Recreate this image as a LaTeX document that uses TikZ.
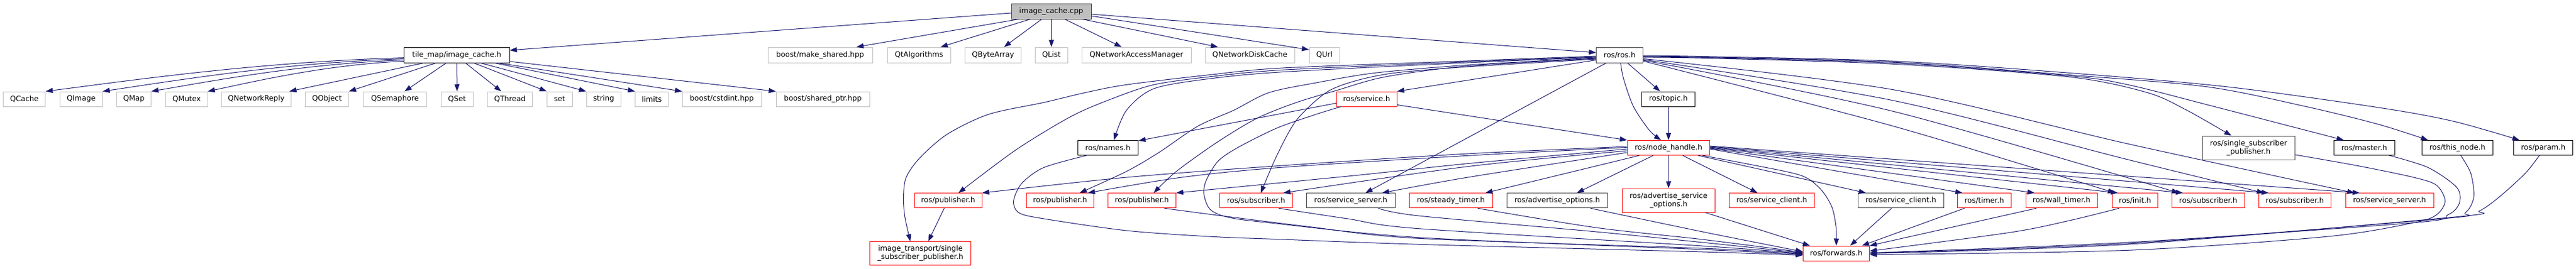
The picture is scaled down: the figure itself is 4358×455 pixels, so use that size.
\documentclass[tikz,border=0pt]{standalone}
\usepackage{fontspec}
\newfontfamily\nodefont{DejaVu Sans}
\usetikzlibrary{arrows.meta}
\definecolor{mblue}{HTML}{191970}
\definecolor{gseventyfive}{HTML}{BFBFBF}
\definecolor{gtwentyfive}{HTML}{404040}
\begin{document}
\begin{tikzpicture}[x=1pt,y=-1pt,
  nbox/.style={draw, rectangle, inner sep=0pt, line width=1pt, align=center, text=black,
    font=\nodefont\fontsize{12.4pt}{14pt}\selectfont},
  gnode/.style={nbox, draw=gseventyfive},
  bnode/.style={nbox, draw=black},
  dnode/.style={nbox, draw=gtwentyfive},
  rnode/.style={nbox, draw=red},
  wh/.style 2 args={minimum width=#1pt, minimum height=#2pt},
  edge/.style={draw=mblue, line width=1pt, -{Triangle[length=12pt,width=8.5pt]}},
]
\useasboundingbox (0,0) rectangle (4358,455);
\fill[white] (0,0) rectangle (4358,455);

% row 0
\node[dnode, fill=gseventyfive, wh={135}{26}] (cpp) at (1778.5,19) {image\_cache.cpp};
% row 1
\node[bnode, wh={178.5}{26}] (tilemap) at (772.75,93) {tile\_map/image\_cache.h};
\node[gnode, wh={177}{26}] (makeshared) at (1387.5,93) {boost/make\_shared.hpp};
\node[gnode, wh={106.5}{26}] (qtalg) at (1554.75,93) {QtAlgorithms};
\node[gnode, wh={94.6}{26}] (qbyte) at (1680,93) {QByteArray};
\node[gnode, wh={54.5}{26}] (qlist) at (1778.75,93) {QList};
\node[gnode, wh={185}{26}] (qnam) at (1922.5,93) {QNetworkAccessManager};
\node[gnode, wh={151}{26}] (qndc) at (2114.5,93) {QNetworkDiskCache};
\node[gnode, wh={51}{26}] (qurl) at (2240.5,93) {QUrl};
\node[dnode, wh={78.7}{26}] (ros) at (2740,93) {ros/ros.h};
% row 2
\node[gnode, wh={71.2}{25}] (qcache) at (41.2,167.5) {QCache};
\node[gnode, wh={71.7}{25}] (qimage) at (137.35,167.5) {QImage};
\node[gnode, wh={58.2}{25}] (qmap) at (226.5,167.5) {QMap};
\node[gnode, wh={70.3}{25}] (qmutex) at (315.85,167.5) {QMutex};
\node[gnode, wh={117.3}{25}] (qnetreply) at (433.45,167.5) {QNetworkReply};
\node[gnode, wh={73.6}{25}] (qobject) at (553.1,167.5) {QObject};
\node[gnode, wh={107.1}{25}] (qsem) at (668.15,167.5) {QSemaphore};
\node[gnode, wh={54.5}{25}] (qset) at (773.25,167.5) {QSet};
\node[gnode, wh={75.8}{25}] (qthread) at (862.7,167.5) {QThread};
\node[gnode, wh={42.9}{25}] (nset) at (946.75,167.5) {set};
\node[gnode, wh={58.6}{25}] (nstring) at (1021.3,167.5) {string};
\node[gnode, wh={55.8}{25}] (limits) at (1102.7,167.5) {limits};
\node[gnode, wh={133.6}{25}] (cstdint) at (1221.2,167.5) {boost/cstdint.hpp};
\node[gnode, wh={158}{25}] (sharedptr) at (1392,167.5) {boost/shared\_ptr.hpp};
\node[rnode, wh={102}{25}] (service) at (2312,167.5) {ros/service.h};
\node[bnode, wh={89.5}{25}] (topic) at (2822.5,167.5) {ros/topic.h};
% row 3
\node[bnode, wh={102.6}{25}] (names) at (1874.3,250) {ros/names.h};
\node[rnode, wh={139.5}{25}] (nodehandle) at (2822.75,250) {ros/node\_handle.h};
\node[dnode, wh={156}{40}] (ssp) at (3804,250) {ros/single\_subscriber\\\_publisher.h};
\node[bnode, wh={102.5}{25}] (master) at (3999.75,250) {ros/master.h};
\node[bnode, wh={119.9}{25}] (thisnode) at (4157.35,250) {ros/this\_node.h};
\node[bnode, wh={100.1}{25}] (param) at (4302.65,250) {ros/param.h};
% row 4
\node[rnode, wh={114}{25}] (pub1) at (1604,339.3) {ros/publisher.h};
\node[rnode, wh={114.6}{25}] (pub2) at (1793.3,339.3) {ros/publisher.h};
\node[rnode, wh={114.9}{25}] (pub3) at (1931.85,339.3) {ros/publisher.h};
\node[rnode, wh={122.7}{25}] (sub1) at (2125,339.3) {ros/subscriber.h};
\node[dnode, wh={149.5}{25}] (srvsrv1) at (2285.25,339.3) {ros/service\_server.h};
\node[rnode, wh={141}{25}] (steady) at (2454.5,339.3) {ros/steady\_timer.h};
\node[dnode, wh={170.6}{25}] (advopt) at (2634.3,339.3) {ros/advertise\_options.h};
\node[rnode, wh={157.1}{40}] (advsrvopt) at (2822.85,339) {ros/advertise\_service\\\_options.h};
\node[rnode, wh={144}{25}] (srvcli1) at (2997.3,339.3) {ros/service\_client.h};
\node[dnode, wh={144.3}{25}] (srvcli2) at (3215.85,339.3) {ros/service\_client.h};
\node[rnode, wh={90.7}{25}] (timer) at (3357,339.3) {ros/timer.h};
\node[rnode, wh={121.4}{25}] (walltimer) at (3487.7,339.3) {ros/wall\_timer.h};
\node[rnode, wh={76.8}{25}] (init) at (3611.9,339.3) {ros/init.h};
\node[rnode, wh={122.9}{25}] (sub2) at (3735.85,339.3) {ros/subscriber.h};
\node[rnode, wh={122.7}{25}] (sub3) at (3882.35,339.3) {ros/subscriber.h};
\node[rnode, wh={149}{25}] (srvsrv2) at (4042.5,339.3) {ros/service\_server.h};
% row 5
\node[rnode, wh={170.8}{40}] (imgtr) at (1557.1,428.7) {image\_transport/single\\\_subscriber\_publisher.h};
\node[rnode, wh={112.2}{25.3}] (forwards) at (3106.5,428.65) {ros/forwards.h};

% ---- edges from image_cache.cpp
\draw[edge] ([yshift=-3pt]cpp.west) -- ([yshift=8pt]tilemap.east);
\draw[edge] ([xshift=-55.5pt]cpp.south) -- ([xshift=61.5pt]makeshared.north);
\draw[edge] ([xshift=-35.7pt]cpp.south) -- ([xshift=36.6pt]qtalg.north);
\draw[edge] ([xshift=-16.3pt]cpp.south) -- ([xshift=18.5pt]qbyte.north);
\draw[edge] (cpp.south) -- (qlist.north);
\draw[edge] ([xshift=22.9pt]cpp.south) -- ([xshift=-25pt]qnam.north);
\draw[edge] ([xshift=53pt]cpp.south) -- ([xshift=-54pt]qndc.north);
\draw[edge] ([yshift=-8pt]cpp.east) -- ([yshift=9pt]qurl.west);
\draw[edge] ([yshift=-5pt]cpp.east) -- ([yshift=4pt]ros.west);

% ---- edges from tile_map/image_cache.h
\draw[edge] ([yshift=-4.7pt]tilemap.west) .. controls (440.8,104.6) and (228.5,135) .. (qcache.north east);
\draw[edge] ([yshift=-6.5pt]tilemap.west) .. controls (479.4,106.2) and (300.8,135.6) .. (qimage.north east);
\draw[edge] ([yshift=-8.5pt]tilemap.west) .. controls (512.3,107.9) and (362.6,136.3) .. (qmap.north east);
\draw[edge] ([yshift=-10.5pt]tilemap.west) .. controls (550.5,109.7) and (434.1,137) .. (qmutex.north east);
\draw[edge] ([xshift=-55.75pt]tilemap.south) -- ([xshift=-3pt]qnetreply.north east);
\draw[edge] ([xshift=-35pt]tilemap.south) -- (qobject.north east);
\draw[edge] ([xshift=-17.75pt]tilemap.south) -- ([xshift=16.25pt]qsem.north);
\draw[edge] (tilemap.south) -- (qset.north);
\draw[edge] ([xshift=14.75pt]tilemap.south) -- ([xshift=-14.7pt]qthread.north);
\draw[edge] ([xshift=28.75pt]tilemap.south) -- (nset.north west);
\draw[edge] ([xshift=40.25pt]tilemap.south) -- (nstring.north west);
\draw[edge] ([xshift=63.65pt]tilemap.south) -- (limits.north west);
\draw[edge] ([xshift=70.25pt]tilemap.south) -- (cstdint.north west);
\draw[edge] ([yshift=-11pt]tilemap.east) -- (sharedptr.north west);

% ---- edges from ros/ros.h, leftwards
\draw[edge] plot[smooth] coordinates {([yshift=-2pt]ros.west) (2482.7,103) (2170,115) (2045,126.7) (1905.6,143.3) (1835.8,156.7) (1766,173.3) (1672.8,193.3) (1603,226.7) (1556.4,266.7) (1533,300) (1528.5,333.3) (1530.8,366.7) ([xshift=-17pt]imgtr.north)};
\draw[edge] plot[smooth] coordinates {([yshift=-3pt]ros.west) (2482.7,104.5) (2170,118.3) (2045,130) (1952,143.3) (1882,166.7) (1812.5,196.7) (1719,253.3) ([xshift=17.6pt]pub1.north)};
\draw[edge] plot[smooth] coordinates {([yshift=-4pt]ros.west) (2482.7,106) (2170,121.7) (2045,133.3) (1952,150) (1905.6,186.7) ([xshift=10.3pt]names.north)};
\draw[edge] plot[smooth] coordinates {([yshift=-5pt]ros.west) (2482.7,110) (2326.7,123.3) (2226.7,140) (2146.7,156.7) (2086.7,186.7) (2026.7,213.3) (1960,258.3) (1905.6,290) ([xshift=33.2pt]pub2.north)};
\draw[edge] plot[smooth] coordinates {([yshift=-6pt]ros.west) (2482.7,111.7) (2343.3,130) (2260,153.3) (2193.3,173.3) (2126.7,200) (2060,240) (1990,290) ([xshift=20pt]pub3.north)};
\draw[edge] plot[smooth] coordinates {([yshift=-7pt]ros.west) (2482.7,113) (2360,123.3) (2293.3,136.7) (2243.3,156.7) (2193.3,203.3) (2160,263.3) ([xshift=8pt]sub1.north)};
\draw[edge] ([yshift=-8.5pt]ros.west) -- (service.north east);
\draw[edge] ([xshift=-22.6pt]ros.south) -- ([xshift=24.75pt]srvsrv1.north);
\draw[edge] ([xshift=13.3pt]ros.south) -- ([xshift=-14pt]topic.north);
\draw[edge] plot[smooth] coordinates {([xshift=1.7pt]ros.south) (2746.7,133.3) (2763.3,180) (2790,220) ([xshift=-12.75pt]nodehandle.north)};
\draw[edge] (topic.south) -- (nodehandle.north);

% ---- edges from ros/ros.h, rightwards
\draw[edge] plot[smooth] coordinates {([yshift=-1pt]ros.east) (2880,95.5) (3202.7,103.3) (3500,123.3) (3766.7,146.7) (4022.7,181.7) (4150,205) ([xshift=-40.3pt]param.north)};
\draw[edge] plot[smooth] coordinates {([yshift=-2pt]ros.east) (2880,96.5) (3202.7,105) (3500,126.7) (3733,146.7) (3900,180) (4022.7,210) ([xshift=-49.75pt]thisnode.north)};
\draw[edge] plot[smooth] coordinates {([yshift=-3pt]ros.east) (2880,97.3) (3202.7,106.5) (3500,128.3) (3600,143.3) (3745,180) ([xshift=-34.75pt]master.north)};
\draw[edge] plot[smooth] coordinates {([yshift=-4pt]ros.east) (2880,98.3) (3202.7,108.3) (3500,130) (3633,156.7) (3700,186.7) ([xshift=-29pt]ssp.north)};
\draw[edge] plot[smooth] coordinates {([yshift=-6.3pt]ros.east) (3202.7,151.7) (3600,243.3) ([xshift=-59.5pt]srvsrv2.north)};
\draw[edge] plot[smooth] coordinates {([yshift=-7.7pt]ros.east) (3202.7,170) (3600,270) ([xshift=-52.35pt]sub3.north)};
\draw[edge] plot[smooth] coordinates {([yshift=-9pt]ros.east) (3202.7,188.3) ([xshift=-49.85pt]sub2.north)};
\draw[edge] plot[smooth] coordinates {([yshift=-10.3pt]ros.east) (3202.7,213.3) ([xshift=-33.9pt]init.north)};

% ---- edges from ros/service.h
\draw[edge] ([yshift=-7pt]service.west) -- ([yshift=-1pt]names.north east);
\draw[edge] ([yshift=-9.8pt]service.east) -- (nodehandle.north west);
\draw[edge] plot[smooth] coordinates {([xshift=-43.7pt]service.south) (2226.7,193.3) (2160,216.7) (2093.3,250) (2060,273.3) (2040,306.7) (2037,330) (2048,355) (2080,368) (2146.7,376.7) (2400,401.7) (2880,422) ([yshift=-2pt]forwards.west)};

% ---- edges from ros/node_handle.h
\draw[edge] plot[smooth] coordinates {([yshift=2pt]nodehandle.west) (2482.7,260) (2170,280) (1905.6,300) (pub1.north east)};
\draw[edge] plot[smooth] coordinates {([yshift=0.5pt]nodehandle.west) (2482.7,263.3) (2170,283) (1998.7,300) ([xshift=47.1pt]pub2.north)};
\draw[edge] plot[smooth] coordinates {([yshift=-2pt]nodehandle.west) (2482.7,276.7) (2293.3,296.7) (pub3.north east)};
\draw[edge] plot[smooth] coordinates {([yshift=-5pt]nodehandle.west) (2482.7,281.7) ([xshift=46pt]sub1.north)};
\draw[edge] plot[smooth] coordinates {([yshift=-8pt]nodehandle.west) (2482.7,300) ([xshift=52.75pt]srvsrv1.north)};
\draw[edge] ([xshift=-49.45pt]nodehandle.south) -- ([xshift=58.5pt]steady.north);
\draw[edge] ([xshift=-26pt]nodehandle.south) -- ([xshift=33.4pt]advopt.north);
\draw[edge] (nodehandle.south) -- (advsrvopt.north);
\draw[edge] ([xshift=24pt]nodehandle.south) -- ([xshift=-24pt]srvcli1.north);
\draw[edge] ([xshift=50pt]nodehandle.south) -- ([xshift=-59.15pt]srvcli2.north);
\draw[edge] plot[smooth] coordinates {([xshift=57pt]nodehandle.south) (2960,278) (3046.7,296.7) (3080,320) (3099,350) (3106,383) (forwards.north)};
\draw[edge] ([yshift=-2pt]nodehandle.east) -- ([xshift=-37pt]timer.north);
\draw[edge] ([yshift=-1pt]nodehandle.east) -- ([xshift=-45.7pt]walltimer.north);
\draw[edge] (nodehandle.east) -- ([xshift=-28.9pt]init.north);
\draw[edge] ([yshift=1pt]nodehandle.east) -- ([xshift=-42.85pt]sub2.north);
\draw[edge] ([yshift=2pt]nodehandle.east) -- ([xshift=-44.35pt]sub3.north);
\draw[edge] ([yshift=3pt]nodehandle.east) -- ([xshift=-50.5pt]srvsrv2.north);

% ---- edges into ros/forwards.h and others
\draw[edge] plot[smooth] coordinates {([xshift=-36.3pt]names.south) (1766,283.3) (1728.7,310) (1714.7,340) (1724,360) (1766,370) (1905.6,390) (2045,400) (2170,405) (2400,413.3) (2880,426) ([yshift=-3pt]forwards.west)};
\draw[edge] plot[smooth] coordinates {([xshift=38pt]pub3.south) (2053.3,363.3) (2213.3,383.3) (2400,403.3) (2880,420) ([yshift=-1pt]forwards.west)};
\draw[edge] plot[smooth] coordinates {([xshift=38.3pt]sub1.south) (2280,370) (2400,386.7) (2880,416) (forwards.west)};
\draw[edge] plot[smooth] coordinates {([xshift=46.5pt]srvsrv1.south) (2400,365) (2700,392) (2880,410) ([yshift=1pt]forwards.west)};
\draw[edge] plot[smooth] coordinates {([xshift=45.4pt]steady.south) (2700,385) (2880,405) ([yshift=2pt]forwards.west)};
\draw[edge] plot[smooth] coordinates {([xshift=56.5pt]advopt.south) (2880,392) ([yshift=3pt]forwards.west)};
\draw[edge] ([xshift=62pt]advsrvopt.south) -- ([xshift=-44.5pt]forwards.north);
\draw[edge] ([xshift=-15.85pt]srvcli2.south) -- ([xshift=23.5pt]forwards.north);
\draw[edge] ([xshift=-33.7pt]timer.south) -- ([xshift=43.5pt]forwards.north);
\draw[edge] ([xshift=-42.7pt]walltimer.south) -- (forwards.north east);
\draw[edge] plot[smooth] coordinates {([xshift=-26.9pt]init.south) (3500,373.3) (3400,393.3) ([yshift=4pt]forwards.east)};
\draw[edge] plot[smooth] coordinates {([yshift=-11.7pt]ssp.east) (3986.7,280) (4083.4,300) (4122,313.3) (4136.6,340) (4122,363.3) (4083.4,376.7) (3938.4,400) (3600,423.3) ([yshift=-2pt]forwards.east)};
\draw[edge] plot[smooth] coordinates {([xshift=42.5pt]master.south) (4107.6,283.3) (4156,316.7) (4160.7,343.3) (4141.4,363.3) (4083.4,376.7) (3600,410) ([yshift=1pt]forwards.east)};
\draw[edge] plot[smooth] coordinates {([xshift=5.65pt]thisnode.south) (4180,293.3) (4185,333.3) (4170.4,360) (4131.7,370) (3600,411.7) ([yshift=0.5pt]forwards.east)};
\draw[edge] plot[smooth] coordinates {([xshift=-6.65pt]param.south) (4272,293.3) (4228,333.3) (4194.6,356.7) (4156,366.7) (3600,413.3) (forwards.east)};
\draw[edge] ([xshift=-6.6pt]pub1.south) -- ([xshift=13.3pt]imgtr.north);
\end{tikzpicture}
\end{document}
